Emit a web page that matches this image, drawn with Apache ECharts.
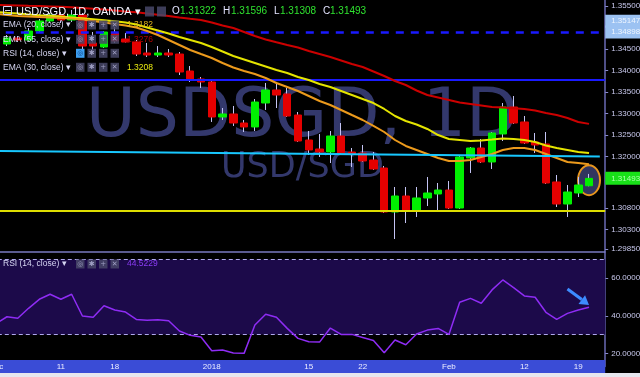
<!DOCTYPE html>
<html><head><meta charset="utf-8">
<script src="https://cdn.jsdelivr.net/npm/echarts@6/dist/echarts.min.js"></script>
<style>html,body{margin:0;padding:0;background:#000;}#c{width:640px;height:377px;}</style>
</head><body><div id="c"></div>
<script>
const dates = ['2017-12-01','2017-12-04','2017-12-05','2017-12-06','2017-12-07','2017-12-08','2017-12-11','2017-12-12','2017-12-13','2017-12-14','2017-12-15','2017-12-18','2017-12-19','2017-12-20','2017-12-21','2017-12-22','2017-12-26','2017-12-27','2017-12-28','2017-12-29','2018-01-02','2018-01-03','2018-01-04','2018-01-05','2018-01-08','2018-01-09','2018-01-10','2018-01-11','2018-01-12','2018-01-15','2018-01-16','2018-01-17','2018-01-18','2018-01-19','2018-01-22','2018-01-23','2018-01-24','2018-01-25','2018-01-26','2018-01-29','2018-01-30','2018-01-31','2018-02-01','2018-02-02','2018-02-05','2018-02-06','2018-02-07','2018-02-08','2018-02-09','2018-02-12','2018-02-13','2018-02-14','2018-02-15','2018-02-16','2018-02-19','2018-02-20','2018-02-21'];

// [open, close, low, high]
const candles = [
[1.34547,1.34617,1.34500,1.34710],[1.34617,1.34756,1.34570,1.34826],[1.34756,1.34710,1.34663,1.34803],[1.34710,1.34919,1.34687,1.34989],
[1.34919,1.35152,1.34873,1.35198],[1.35152,1.35291,1.35105,1.35338],[1.35291,1.35175,1.35105,1.35361],[1.35175,1.35291,1.35128,1.35408],
[1.35291,1.34570,1.34408,1.35338],[1.34640,1.34570,1.34477,1.34896],[1.34547,1.34896,1.34524,1.34919],[1.34873,1.34687,1.34640,1.35012],
[1.34733,1.34663,1.34652,1.34873],[1.34663,1.34384,1.34338,1.34710],[1.34408,1.34361,1.34315,1.34640],[1.34361,1.34408,1.34315,1.34570],
[1.34408,1.34361,1.34315,1.34500],[1.34384,1.33966,1.33896,1.34431],[1.33989,1.33803,1.33734,1.34105],[1.33803,1.33734,1.33594,1.33850],
[1.33734,1.32920,1.32804,1.33780],[1.32920,1.32990,1.32850,1.33129],[1.32990,1.32780,1.32711,1.33176],[1.32780,1.32688,1.32571,1.32850],
[1.32688,1.33268,1.32594,1.33338],[1.33245,1.33548,1.33083,1.33710],[1.33548,1.33431,1.33129,1.33734],[1.33455,1.32943,1.32920,1.33594],
[1.32966,1.32362,1.32339,1.33036],[1.32385,1.32153,1.32036,1.32594],[1.32176,1.32106,1.31990,1.32525],[1.32106,1.32478,1.31850,1.32594],
[1.32478,1.32083,1.32036,1.32780],[1.32106,1.32060,1.31757,1.32199],[1.32083,1.31897,1.31874,1.32269],[1.31920,1.31711,1.31688,1.32106],
[1.31734,1.30711,1.30688,1.31781],[1.30711,1.31083,1.30083,1.31292],[1.31083,1.30734,1.30455,1.31292],[1.30734,1.31037,1.30595,1.31292],
[1.31037,1.31153,1.30850,1.31525],[1.31130,1.31222,1.30711,1.31385],[1.31222,1.30804,1.30781,1.31432],[1.30804,1.31990,1.30781,1.32036],
[1.31967,1.32199,1.31618,1.32222],[1.32199,1.31874,1.31850,1.32408],[1.31874,1.32548,1.31711,1.32571],[1.32525,1.33152,1.32362,1.33245],
[1.33152,1.32780,1.32757,1.33408],[1.32804,1.32315,1.32292,1.32943],[1.32339,1.32269,1.32083,1.32548],[1.32292,1.31385,1.31362,1.32571],
[1.31409,1.30897,1.30827,1.31571],[1.30897,1.31176,1.30595,1.31339],[1.31153,1.31339,1.31060,1.31525],[1.31322,1.31493,1.31308,1.31596]
];

const ema55 = [1.35524,1.35519,1.35514,1.35505,1.35498,1.35491,1.35482,1.35470,1.35454,1.35435,1.35417,1.35396,1.35375,1.35354,1.35326,1.35296,1.35268,1.35233,1.35203,1.35175,1.35117,1.35047,1.34989,1.34896,1.34803,1.34722,1.34657,1.34594,1.34536,1.34454,1.34385,1.34315,1.34234,1.34152,1.34082,1.33978,1.33873,1.33757,1.33664,1.33536,1.33431,1.33373,1.33315,1.33257,1.33222,1.33187,1.33152,1.33141,1.33124,1.33106,1.33071,1.33013,1.32966,1.32897,1.32804,1.32760];
const ema30 = [1.35361,1.35342,1.35324,1.35305,1.35287,1.35273,1.35254,1.35235,1.35215,1.35194,1.35170,1.35145,1.35119,1.35070,1.35001,1.34931,1.34861,1.34780,1.34710,1.34640,1.34547,1.34443,1.34338,1.34257,1.34175,1.34094,1.34013,1.33943,1.33850,1.33780,1.33687,1.33617,1.33524,1.33431,1.33338,1.33245,1.33106,1.32943,1.32827,1.32745,1.32641,1.32501,1.32408,1.32385,1.32362,1.32373,1.32396,1.32420,1.32408,1.32385,1.32339,1.32257,1.32199,1.32153,1.32106,1.32080];
const ema20 = [1.35315,1.35291,1.35268,1.35256,1.35245,1.35233,1.35222,1.35210,1.35187,1.35152,1.35117,1.35082,1.35047,1.35001,1.34919,1.34826,1.34710,1.34594,1.34477,1.34384,1.34292,1.34175,1.34071,1.33989,1.33920,1.33827,1.33710,1.33617,1.33524,1.33408,1.33292,1.33199,1.33083,1.32966,1.32850,1.32711,1.32571,1.32385,1.32246,1.32153,1.32060,1.31967,1.31897,1.31897,1.31920,1.31990,1.32060,1.32153,1.32199,1.32199,1.32153,1.32060,1.31967,1.31874,1.31850,1.31820];
const rsi = [36.0,39.5,38.7,44.0,48.8,51.5,48.8,51.5,39.9,39.2,45.4,43.1,42.0,38.1,37.6,37.9,37.4,31.9,29.6,28.7,21.4,21.8,20.2,20.0,35.1,40.8,39.2,33.3,28.0,26.2,26.0,33.5,30.1,30.1,28.5,26.9,20.3,27.1,24.6,30.3,32.4,33.3,30.1,47.2,49.3,46.7,53.8,59.1,55.0,50.6,49.9,41.9,38.1,41.3,43.1,44.5229];

const priceTicks = [1.2985, 1.303, 1.308, 1.32, 1.325, 1.33, 1.335, 1.34, 1.345, 1.355];
const rsiTicks = [20, 40, 60];
const rsiBand = [30, 70];
const xTickDates = ['2017-12-01','2017-12-11','2017-12-18','2018-01-02','2018-01-15','2018-01-22','2018-02-01','2018-02-12','2018-02-19'];
const xTickTexts = ['Dec','11','18','2018','15','22','Feb','12','19'];
const supportLevel = 1.3075;
const resistanceLevel = 1.3378;
const dashedLevel = 1.34898;
const alertLevel = 1.35147;
const lastPrice = 1.31493;
const trendStart = 1.32129, trendEnd = 1.32004;
const ohlc = {O: '1.31322', H: '1.31596', L: '1.31308', C: '1.31493'};
const legendValues = {ema20: '1.3182', ema55: '1.3276', ema30: '1.3208', rsi: '44.5229'};
const arrowFrom = [53, 54.3], arrowTo = [55, 45.8];

const UP = '#00f000', DOWN = '#e50000', WICK = '#c4c4f4';
const FONT = '"Liberation Sans", Arial, sans-serif';

const chart = echarts.init(document.getElementById('c'), null, {renderer: 'canvas'});

const bodies = candles.map(([o, c]) => [o, c, Math.min(o, c), Math.max(o, c)]);
const trendData = dates.map((d, i) => i === 0 ? trendStart : (i === dates.length - 1 ? trendEnd : null));

const markerLabel = (text, bg, fg) => ({
  show: true, position: 'end', distance: 0, formatter: text,
  backgroundColor: bg, color: fg, fontSize: 8, fontFamily: FONT,
  padding: [3, 8, 2, 6]
});

const option = {
  animation: false,
  backgroundColor: '#000',
  grid: [
    {left: -9.2, width: 614.4, top: 0, height: 252, containLabel: false, outerBoundsMode: 'none'},
    {left: -9.2, width: 614.4, top: 252, height: 114.5, containLabel: false, outerBoundsMode: 'none'}
  ],
  xAxis: [
    {type: 'category', gridIndex: 0, data: dates, boundaryGap: true,
     axisLine: {show: true, lineStyle: {color: '#7a7ac0', width: 1.5, cap: 'butt'}},
     axisTick: {show: false}, axisLabel: {show: false}, splitLine: {show: false}},
    {type: 'category', gridIndex: 1, data: dates, boundaryGap: true,
     axisLine: {show: true, lineStyle: {color: '#3a4cd6', width: 13, cap: 'butt'}},
     axisTick: {show: false}, splitLine: {show: false},
     axisLabel: {show: true, color: '#eeeeff', fontSize: 8, fontFamily: FONT, margin: 0, verticalAlign: 'middle',
       interval: (idx, val) => xTickDates.indexOf(val) >= 0,
       formatter: (val) => { const i = xTickDates.indexOf(val); return i >= 0 ? xTickTexts[i] : ''; }}}
  ],
  yAxis: [
    {type: 'value', gridIndex: 0, position: 'right', min: 1.29781, max: 1.3564, scale: true,
     axisLine: {show: true, lineStyle: {color: '#6a6ab4', width: 1.5}},
     axisTick: {show: true, length: 3, customValues: priceTicks, lineStyle: {color: '#8a8acc'}},
     axisLabel: {show: true, customValues: priceTicks, formatter: v => v.toFixed(5), color: '#c8c8ec', fontSize: 8, fontFamily: FONT, margin: 6},
     splitLine: {show: false}},
    {type: 'value', gridIndex: 1, position: 'right', min: 13, max: 74,
     axisLine: {show: true, lineStyle: {color: '#6a6ab4', width: 1.5}},
     axisTick: {show: true, length: 3, customValues: rsiTicks, lineStyle: {color: '#8a8acc'}},
     axisLabel: {show: true, customValues: rsiTicks, formatter: v => v.toFixed(4), color: '#c8c8ec', fontSize: 8, fontFamily: FONT, margin: 6},
     splitLine: {show: false}}
  ],
  series: [
    {name: 'wicks', type: 'candlestick', xAxisIndex: 0, yAxisIndex: 0, data: candles, barWidth: 1, z: 3,
     itemStyle: {color: WICK, color0: WICK, borderColor: WICK, borderColor0: WICK, borderWidth: 1}},
    {name: 'bodies', type: 'candlestick', xAxisIndex: 0, yAxisIndex: 0, data: bodies, barWidth: 8, z: 4,
     itemStyle: {color: UP, color0: DOWN, borderColor: UP, borderColor0: DOWN, borderWidth: 1},
     markLine: {silent: true, symbol: 'none', animation: false, precision: 5,
       data: [
         {yAxis: resistanceLevel, lineStyle: {color: '#1a1aff', width: 2, type: 'solid'}, label: {show: false}},
         {yAxis: dashedLevel, lineStyle: {color: '#1a1aff', width: 2.5, type: [8, 7]}, label: markerLabel(dashedLevel.toFixed(5), '#9cc2f2', '#eef5ff')},
         {yAxis: alertLevel, lineStyle: {color: 'rgba(0,0,0,0)', width: 0}, label: markerLabel(alertLevel.toFixed(5), '#9cc2f2', '#eef5ff')},
         {yAxis: supportLevel, lineStyle: {color: '#dede00', width: 2, type: 'solid'}, label: {show: false}},
         {yAxis: lastPrice, lineStyle: {color: 'rgba(0,0,0,0)', width: 0}, label: markerLabel(lastPrice.toFixed(5), '#18e018', '#aaffaa')}
       ]}},
    {name: 'EMA55', type: 'line', xAxisIndex: 0, yAxisIndex: 0, data: ema55, showSymbol: false, z: 5,
     lineStyle: {color: '#cc0000', width: 2}},
    {name: 'EMA30', type: 'line', xAxisIndex: 0, yAxisIndex: 0, data: ema30, showSymbol: false, z: 5,
     lineStyle: {color: '#e4e400', width: 2}},
    {name: 'EMA20', type: 'line', xAxisIndex: 0, yAxisIndex: 0, data: ema20, showSymbol: false, z: 5,
     lineStyle: {color: '#ec9a1c', width: 2}},
    {name: 'trend', type: 'line', xAxisIndex: 0, yAxisIndex: 0, data: trendData, connectNulls: true, showSymbol: false, z: 6,
     lineStyle: {color: '#18c8ff', width: 2}},
    {name: 'RSI', type: 'line', xAxisIndex: 1, yAxisIndex: 1, data: rsi, showSymbol: false, z: 5,
     lineStyle: {color: '#8e2cf4', width: 1.5},
     markArea: {silent: true, itemStyle: {color: '#1c0a4a'}, data: [[{yAxis: rsiBand[1]}, {yAxis: rsiBand[0]}]]},
     markLine: {silent: true, symbol: 'none', label: {show: false}, precision: 2,
       lineStyle: {color: '#b0a8ee', width: 1, type: [4, 3]},
       data: [{yAxis: rsiBand[1]}, {yAxis: rsiBand[0]}]}}
  ]
};
chart.setOption(option);

// annotations positioned through the chart's own scales
const ell = chart.convertToPixel({gridIndex: 0}, [dates[55], (candles[55][2] + candles[55][3]) / 2]);
const a1 = chart.convertToPixel({gridIndex: 1}, [dates[arrowFrom[0]], arrowFrom[1]]);
const a2 = chart.convertToPixel({gridIndex: 1}, [dates[arrowTo[0]], arrowTo[1]]);
const dx = a2[0] - a1[0], dy = a2[1] - a1[1], len = Math.hypot(dx, dy);
const ux = dx / len, uy = dy / len, nx = -uy, ny = ux;
const hb = [a2[0] - ux * 9, a2[1] - uy * 9];

function txt(text, x, y, fill, size, extra) {
  return Object.assign({type: 'text', z: 100, style: {text, x, y, fill, font: size + 'px ' + FONT,
    textAlign: 'left', textVerticalAlign: 'middle', align: 'left', verticalAlign: 'middle'}}, extra || {});
}
function box(x, y, w, h, fill) {
  return {type: 'rect', z: 99, shape: {x, y, width: w, height: h}, style: {fill}};
}
function legendRow(y, label, value, valueColor, highlight) {
  const els = [txt(label + ' \u25BE', 3, y, '#d6d6f2', 8.5)];
  const xs = [76, 87.5, 99, 110.5];
  const icons = ['\u25CE', '\u2731', '+', '\u2715'];
  xs.forEach((x, i) => {
    els.push(box(x, y - 4.5, 8.5, 9, (highlight && i === 0) ? '#3d9ff0' : 'rgba(72,72,104,0.85)'));
    els.push({type: 'text', z: 100, style: {text: icons[i], x: x + 4.25, y, fill: (highlight && i === 0) ? '#0d3a7a' : '#a0a0c4', font: '7px "DejaVu Sans"',
        textAlign: 'center', align: 'center', textVerticalAlign: 'middle', verticalAlign: 'middle'}});
  });
  if (value) els.push(txt(value, 127, y, valueColor, 8.5));
  return els;
}

const elements = [
  // watermark
  {type: 'text', z: 0, style: {text: 'USDSGD, 1D', x: 86, y: 118, fill: '#33386c', font: '68px "DejaVu Sans"',
    textAlign: 'left', align: 'left', textVerticalAlign: 'middle', verticalAlign: 'middle'}},
  {type: 'text', z: 0, style: {text: 'USD/SGD', x: 221, y: 168, fill: '#33386c', font: '35px "DejaVu Sans"',
    textAlign: 'left', align: 'left', textVerticalAlign: 'middle', verticalAlign: 'middle'}},
  // highlight ellipse
  {type: 'ellipse', z: 1, shape: {cx: ell[0], cy: ell[1], rx: 11, ry: 15},
   style: {fill: 'rgba(52,56,100,0.95)', stroke: '#e8961e', lineWidth: 2}},
  // arrow
  {type: 'line', z: 100, shape: {x1: a1[0], y1: a1[1], x2: hb[0], y2: hb[1]}, style: {stroke: '#3d8cff', lineWidth: 3}},
  {type: 'polygon', z: 100, shape: {points: [a2, [hb[0] + nx * 5.5, hb[1] + ny * 5.5], [hb[0] - nx * 5.5, hb[1] - ny * 5.5]]}, style: {fill: '#3d8cff'}},
  // title
  {type: 'rect', z: 100, shape: {x: 3.5, y: 6.5, width: 8, height: 8}, style: {fill: 'none', stroke: '#d0d0f0', lineWidth: 1}},
  {type: 'line', z: 100, shape: {x1: 5, y1: 10.5, x2: 10.5, y2: 10.5}, style: {stroke: '#d0d0f0', lineWidth: 1}},
  txt('USD/SGD, 1D, OANDA \u25BE', 16, 11.5, '#f4f4ff', 11),
  box(145, 6.5, 9, 10, 'rgba(72,72,104,0.85)'), box(157, 6.5, 9, 10, 'rgba(72,72,104,0.85)'),
  txt('O', 172, 11.5, '#e4e4ff', 10), txt(ohlc.O, 180, 11.5, '#2fe22f', 10),
  txt('H', 223, 11.5, '#e4e4ff', 10), txt(ohlc.H, 231, 11.5, '#2fe22f', 10),
  txt('L', 274, 11.5, '#e4e4ff', 10), txt(ohlc.L, 280, 11.5, '#2fe22f', 10),
  txt('C', 323, 11.5, '#e4e4ff', 10), txt(ohlc.C, 330, 11.5, '#2fe22f', 10),
  ...legendRow(25, 'EMA (20, close)', legendValues.ema20, '#e2b41c', false),
  ...legendRow(39.3, 'EMA (55, close)', legendValues.ema55, '#b00000', false),
  ...legendRow(53.3, 'RSI (14, close)', null, null, true),
  ...legendRow(67.3, 'EMA (30, close)', legendValues.ema30, '#eaea10', false),
  ...legendRow(264, 'RSI (14, close)', legendValues.rsi, '#8a3cf4', false),
  // bottom strip
  {type: 'rect', z: 100, shape: {x: 0, y: 373, width: 640, height: 4}, style: {fill: '#e6e6ee'}}
];
chart.setOption({graphic: {elements}});
</script>
</body></html>
